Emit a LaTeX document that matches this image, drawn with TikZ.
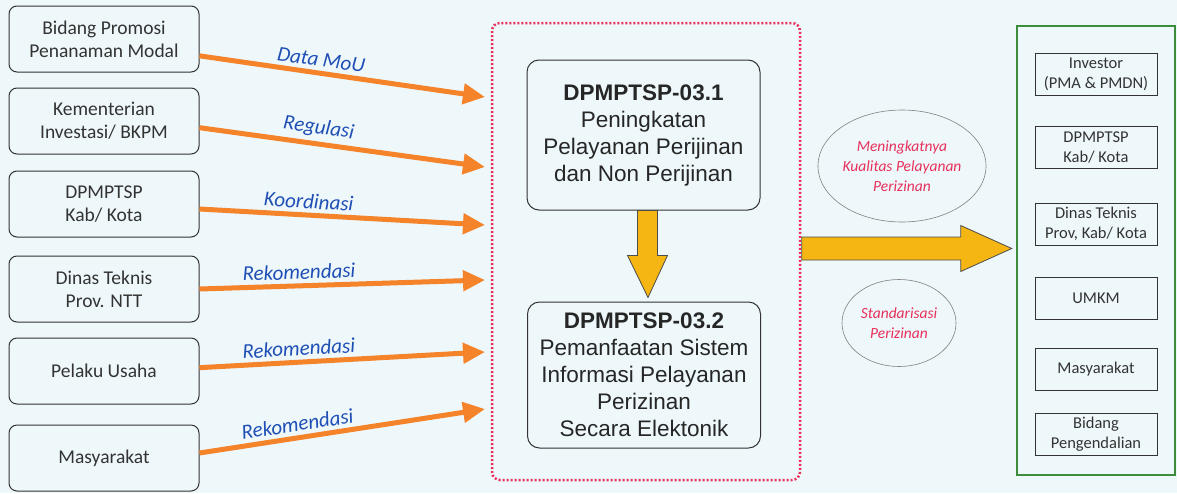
\documentclass[tikz,border=0pt]{standalone}
\usepackage{fontspec}
\setmainfont{Carlito}
\newfontfamily\arialfont{Liberation Sans}
\usetikzlibrary{arrows.meta,calc,shapes.geometric}

\definecolor{latar}{HTML}{EEF8FB}
\definecolor{jingga}{HTML}{F5832A}
\definecolor{biru}{HTML}{1F4FB5}
\definecolor{kuning}{HTML}{F5B512}
\definecolor{merah}{HTML}{E8305A}
\definecolor{hijau}{HTML}{3C8D3C}
\definecolor{abu}{HTML}{333333}

\begin{document}
\begin{tikzpicture}[x=1pt,y=-1pt,
  kotak/.style={draw=abu, line width=1pt, rounded corners=8pt, minimum width=190pt,
    minimum height=66pt, align=center, text=abu, font=\fontsize{19.5}{23}\selectfont},
  program/.style={draw=abu, line width=1pt, rounded corners=12pt, minimum width=233pt,
    align=center, text=black!85, font=\arialfont\fontsize{22.5}{27}\selectfont},
  sasaran/.style={draw=abu, line width=1pt, minimum width=122pt, minimum height=42pt,
    align=center, text=abu, font=\fontsize{16.5}{20}\selectfont},
  hasil/.style={ellipse, draw=gray, line width=0.6pt, inner sep=0pt, align=center,
    text=merah, font=\itshape\fontsize{15.5}{20}\selectfont},
  alur/.style={draw=jingga, line width=5pt, -{Triangle[length=22pt,width=20pt]}},
  label alur/.style={sloped, above, inner sep=4pt, text=biru,
    font=\itshape\fontsize{21}{24}\selectfont},
  panah besar/.style={fill=kuning, draw=black!70, line width=0.8pt, line join=miter}
]
  % latar
  \fill[latar] (0,0) rectangle (1177,493);
  \useasboundingbox (0,0) rectangle (1177,493);

  % kotak sumber
  \node[kotak] (b1) at (104,39) {Bidang Promosi\\Penanaman Modal};
  \node[kotak] (b2) at (104,121) {Kementerian\\Investasi/ BKPM};
  \node[kotak] (b3) at (104,204) {DPMPTSP\\Kab/ Kota};
  \node[kotak] (b4) at (104,289) {Dinas Teknis\\Prov. NTT};
  \node[kotak] (b5) at (104,371) {Pelaku Usaha};
  \node[kotak] (b6) at (104,458) {Masyarakat};

  % kotak titik-titik
  \draw[merah, line width=2.5pt, dash pattern=on 2pt off 2pt, rounded corners=8pt]
    (492,23) rectangle (800,480);

  % ujung panah
  \coordinate (t1) at (485,97);
  \coordinate (t2) at (485,167);
  \coordinate (t3) at (485,225);
  \coordinate (t4) at (485,280);
  \coordinate (t5) at (485,352);
  \coordinate (t6) at (485,409);

  \draw[alur] (b1.-10) -- (t1) node[label alur, pos=0.42] {Data MoU};
  \draw[alur] (b2.-4) -- (t2) node[label alur, pos=0.41] {Regulasi};
  \draw[alur] (b3.-3.6) -- (t3) node[label alur, pos=0.38] {Koordinasi};
  \draw[alur] (b4.east) -- (t4) node[label alur, pos=0.35] {Rekomendasi};
  \draw[alur] (b5.2.4) -- (t5) node[label alur, pos=0.35] {Rekomendasi};
  \draw[alur] (b6.3) -- (t6) node[label alur, pos=0.35] {Rekomendasi};

  % program
  \node[program, minimum height=150pt] (pa) at (643.5,135)
    {\textbf{DPMPTSP-03.1}\\Peningkatan\\Pelayanan Perijinan\\dan Non Perijinan};
  \node[program, minimum height=146pt] (pb) at (644,375)
    {\textbf{DPMPTSP-03.2}\\Pemanfaatan Sistem\\Informasi Pelayanan\\Perizinan\\Secara Elektonik};

  % panah ke bawah
  \draw[panah besar] ($(pa.south)+(-6,0)$) -- ($(pa.south)+(-6,45)$)
    -- ($(pa.south)+(-16,45)$) -- ($(pb.north)+(4,-4)$)
    -- ($(pa.south)+(24,45)$) -- ($(pa.south)+(14,45)$)
    -- ($(pa.south)+(14,0)$) -- cycle;

  % kotak sasaran
  \node[draw=hijau, line width=2.5pt, minimum width=158pt, minimum height=449pt] (grup) at (1096,250.5) {};
  \node[sasaran] (s1) at (1096,74) {Investor\\(PMA \& PMDN)};
  \node[sasaran] (s2) at (1096,147.5) {DPMPTSP\\Kab/ Kota};
  \node[sasaran] (s3) at (1096,224) {Dinas Teknis\\Prov, Kab/ Kota};
  \node[sasaran] (s4) at (1096,298) {UMKM};
  \node[sasaran] (s5) at (1096,369) {Masyarakat};
  \node[sasaran] (s6) at (1096,434.5) {Bidang\\Pengendalian};

  % panah ke kanan
  \coordinate (ujung) at ($(grup.west)+(-4,-2)$);
  \draw[panah besar] ($(ujung)+(-210,-11.5)$) -- ($(ujung)+(-51,-11.5)$)
    -- ($(ujung)+(-51,-23)$) -- (ujung) -- ($(ujung)+(-51,23)$)
    -- ($(ujung)+(-51,11.5)$) -- ($(ujung)+(-210,11.5)$) -- cycle;

  % hasil
  \node[hasil, minimum width=144pt, minimum height=112pt] (h1) at (902,166)
    {Meningkatnya\\Kualitas Pelayanan\\Perizinan};
  \node[hasil, minimum width=114pt, minimum height=87pt] (h2) at (899,323)
    {Standarisasi\\Perizinan};
\end{tikzpicture}
\end{document}
